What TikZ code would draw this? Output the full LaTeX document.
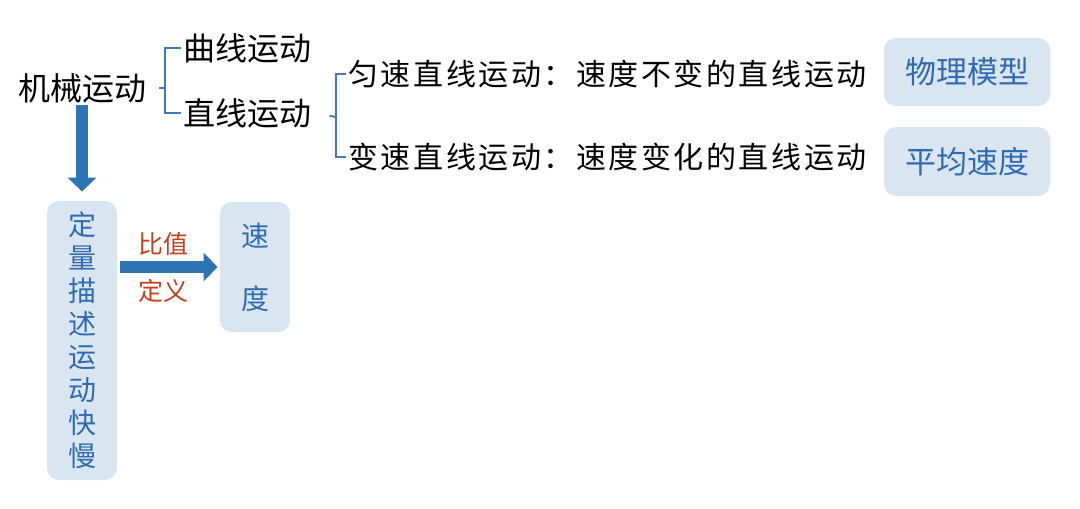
\documentclass[tikz,border=0pt]{standalone}
\usepackage{fontspec}
\setmainfont{Noto Sans CJK SC}
\usetikzlibrary{arrows.meta}
\definecolor{boxfill}{HTML}{DAE5F2}
\definecolor{boxtext}{HTML}{2F6BB0}
\definecolor{arrowblue}{HTML}{2E74B5}
\definecolor{bracket}{HTML}{4478B8}
\definecolor{labelred}{HTML}{C2401C}
\begin{document}
\begin{tikzpicture}[x=0.5pt,y=-0.5pt,
	bigtxt/.style={font=\fontsize{16}{18}\selectfont,inner sep=1pt},
	rowtxt/.style={font=\fontsize{15}{18}\selectfont\addfontfeature{LetterSpace=8.5},inner sep=1pt},
	bluebox/.style={fill=boxfill,rounded corners=6pt,text=boxtext,align=center},
	brace/.style={draw=bracket,line width=1pt},
	bigarrow/.style={draw=arrowblue,line width=6pt,-{Triangle[length=7pt,width=14pt]}}]
	\useasboundingbox (0,0) rectangle (1080,508);
					\node[bigtxt,anchor=west] (jx) at (16,88) {机械运动};
					\node[bigtxt,anchor=west] (qx) at (181,48) {曲线运动};
					\node[bigtxt,anchor=west] (zx) at (181,113) {直线运动};
					\node[rowtxt,anchor=west] (ys) at (346,74) {匀速直线运动：速度不变的直线运动};
					\node[rowtxt,anchor=west] (bs) at (346,157) {变速直线运动：速度变化的直线运动};
					\coordinate (b1) at (165,88);
					\coordinate (b2) at (336,117);
				\draw[brace,shorten <=5pt] (jx.east) -- (b1);
				\draw[brace] (qx.west) -| (b1) |- (zx.west);
				\draw[brace,shorten <=8pt] (zx.east) -- (b2);
				\draw[brace] (ys.west) -| (b2) |- (bs.west);
					\node[bluebox,minimum width=83pt,minimum height=34pt,font=\fontsize{15.5}{18}\selectfont] (wl) at (967,72) {物理模型};
					\node[bluebox,minimum width=83pt,minimum height=34.5pt,font=\fontsize{15.5}{18}\selectfont] (pj) at (967,161.5) {平均速度};
					\node[bluebox,minimum width=35pt,minimum height=139.5pt,font=\fontsize{14}{16.5}\selectfont] (dl) at (82,340.5) {定\\量\\描\\述\\运\\动\\快\\慢};
					\node[bluebox,minimum width=35pt,minimum height=65pt,font=\fontsize{14}{31.5}\selectfont] (sd) at (255,267) {速\\度};
				\draw[bigarrow,shorten >=4.5pt] (dl.north |- jx.south) -- (dl.north);
				\draw[bigarrow,shorten <=1.5pt,shorten >=1pt] (dl.east |- sd) -- (sd.west)
					node[pos=0.45,above=-0.5pt,text=labelred,font=\fontsize{12.5}{14}\selectfont] (bz) {比值}
					node[pos=0.45,below=0pt,text=labelred,font=\fontsize{12.5}{14}\selectfont] (dy) {定义};
\end{tikzpicture}
\end{document}
